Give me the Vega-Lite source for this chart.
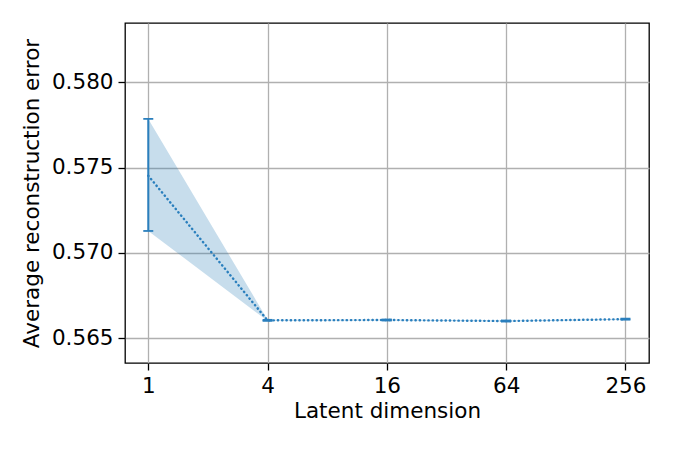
{
  "$schema": "https://vega.github.io/schema/vega-lite/v6.json",
  "width": 524,
  "height": 340,
  "autosize": "none",
  "padding": {"left": 125, "top": 23, "right": 24, "bottom": 86},
  "background": "white",
  "config": {
    "view": {"stroke": "black", "strokeWidth": 1.3},
    "font": "DejaVu Sans",
    "axis": {
      "labelFont": "DejaVu Sans",
      "titleFont": "DejaVu Sans",
      "labelFontSize": 21.5,
      "titleFontSize": 21.5,
      "labelColor": "black",
      "titleColor": "black",
      "titleFontWeight": "normal",
      "tickColor": "black",
      "tickSize": 7,
      "tickWidth": 1.3,
      "domain": false,
      "gridColor": "#b0b0b0",
      "gridWidth": 1.3,
      "labelPadding": 5
    }
  },
  "data": {
    "values": [
      {"dim": 1, "mean": 0.57453, "lower": 0.57129, "upper": 0.57786},
      {"dim": 4, "mean": 0.56605, "lower": 0.56602, "upper": 0.56608},
      {"dim": 16, "mean": 0.56607, "lower": 0.56604, "upper": 0.5661},
      {"dim": 64, "mean": 0.56601, "lower": 0.56598, "upper": 0.56604},
      {"dim": 256, "mean": 0.56612, "lower": 0.56609, "upper": 0.56615}
    ]
  },
  "encoding": {
    "x": {
      "field": "dim",
      "type": "quantitative",
      "scale": {"type": "log", "base": 2, "domain": [0.763, 336.6], "nice": false},
      "axis": {"values": [1, 4, 16, 64, 256], "format": "d", "title": "Latent dimension", "titlePadding": 4}
    }
  },
  "layer": [
    {
      "mark": {"type": "area", "color": "#1f77b4", "opacity": 0.25},
      "encoding": {
        "y": {
          "field": "lower",
          "type": "quantitative",
          "scale": {"domain": [0.56355, 0.58348], "nice": false, "zero": false},
          "axis": {"values": [0.565, 0.57, 0.575, 0.58], "format": ".3f", "title": "Average reconstruction error", "titlePadding": 8}
        },
        "y2": {"field": "upper"}
      }
    },
    {
      "mark": {"type": "line", "color": "#2a7fbd", "strokeWidth": 2.4, "strokeCap": "round", "strokeDash": [0.3, 4]},
      "encoding": {"y": {"field": "mean", "type": "quantitative"}}
    },
    {
      "mark": {"type": "rule", "color": "#2a7fbd", "strokeWidth": 2},
      "encoding": {"y": {"field": "lower", "type": "quantitative"}, "y2": {"field": "upper"}}
    },
    {
      "mark": {"type": "tick", "orient": "horizontal", "color": "#2a7fbd", "size": 10, "thickness": 1.8, "opacity": 1},
      "encoding": {"y": {"field": "lower", "type": "quantitative"}}
    },
    {
      "mark": {"type": "tick", "orient": "horizontal", "color": "#2a7fbd", "size": 10, "thickness": 1.8, "opacity": 1},
      "encoding": {"y": {"field": "upper", "type": "quantitative"}}
    }
  ]
}
